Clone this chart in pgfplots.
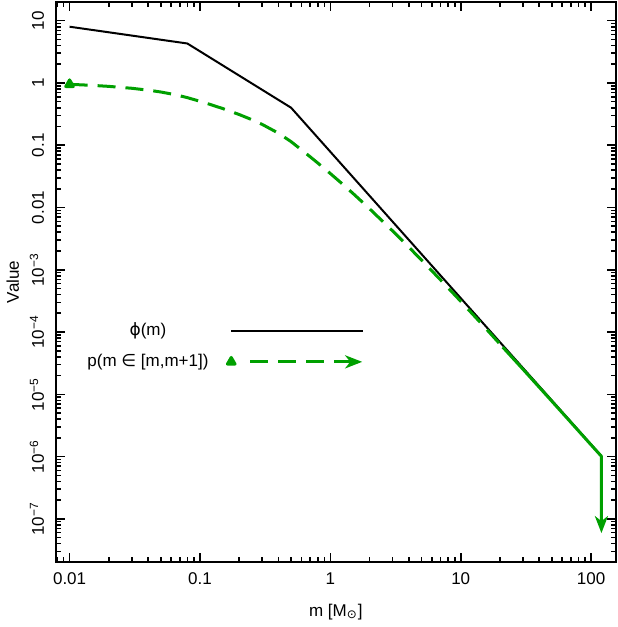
\documentclass[border=0pt]{standalone}
\usepackage{fontspec}
\setmainfont{Liberation Sans}
\newfontfamily\dejavu{DejaVu Sans}
\usepackage{pgfplots}
\pgfplotsset{compat=1.18}
\usetikzlibrary{arrows.meta}
\definecolor{gline}{RGB}{0,160,0}

\begin{document}
\begin{tikzpicture}[font=\fontsize{8.5}{10}\selectfont]
\begin{axis}[
    xmode=log, ymode=log,
    width=280pt, height=280pt, scale only axis,
    xmin=0.00785, xmax=154.5,
    ymin=2.04e-8, ymax=19.95,
    axis line style={line width=1pt},
    tick align=inside, tick pos=both,
    major tick length=4.5pt, minor tick length=2.5pt,
    every tick/.style={black, line width=0.8pt},
    xtick={0.01,0.1,1,10,100},
    xticklabels={0.01,0.1,1,10,100},
    minor xtick={0.008,0.009,0.02,0.03,0.04,0.05,0.06,0.07,0.08,0.09,
        0.2,0.3,0.4,0.5,0.6,0.7,0.8,0.9,2,3,4,5,6,7,8,9,
        20,30,40,50,60,70,80,90},
    ytick={10,1,0.1,0.01,1e-3,1e-4,1e-5,1e-6,1e-7},
    yticklabels={10,1,0.1,0.01,10\textsuperscript{−3},10\textsuperscript{−4},
        10\textsuperscript{−5},10\textsuperscript{−6},10\textsuperscript{−7}},
    minor ytick={3e-8,4e-8,5e-8,6e-8,7e-8,8e-8,9e-8,
        2e-7,3e-7,4e-7,5e-7,6e-7,7e-7,8e-7,9e-7,
        2e-6,3e-6,4e-6,5e-6,6e-6,7e-6,8e-6,9e-6,
        2e-5,3e-5,4e-5,5e-5,6e-5,7e-5,8e-5,9e-5,
        2e-4,3e-4,4e-4,5e-4,6e-4,7e-4,8e-4,9e-4,
        0.002,0.003,0.004,0.005,0.006,0.007,0.008,0.009,
        0.02,0.03,0.04,0.05,0.06,0.07,0.08,0.09,
        0.2,0.3,0.4,0.5,0.6,0.7,0.8,0.9,2,3,4,5,6,7,8,9},
    xticklabel style={anchor=base, yshift=-11.5pt},
    yticklabel style={xshift=-6pt, rotate=90, anchor=base},
    every axis x label/.style={at={(axis description cs:0.5,0)}, anchor=base, yshift=-27.5pt},
    every axis y label/.style={at={(axis description cs:0,0.5)}, xshift=-21.5pt, rotate=90, anchor=center},
    xlabel={m [M\textsubscript{\dejavu ⊙}]},
    ylabel={Value},
    legend plot pos=right,
    legend cell align=center,
    legend style={draw=none, fill=none, inner sep=0pt, outer sep=0pt,
        at={(axis description cs:0.0563,0.4268)}, anchor=north west,
        row sep=7.7pt, column sep=9.5pt,
        nodes={inner sep=0pt}},
]

% phi(m): piecewise power law
\addplot[black, line width=1pt, line join=round,
    legend image code/.code={\draw[black, line width=1pt] (0pt,0pt) -- (66pt,0pt);}]
coordinates {
    (0.01, 8) (0.08, 4.3) (0.5, 0.4) (120, 1.02e-6)
};
\addlegendentry{{\dejavu ϕ}(m)}

% p(m in [m,m+1]), dashed part
\addplot[gline, line width=1.5pt, dash pattern=on 9pt off 5pt, line join=round,
    mark=triangle*, mark size=2.2pt, mark indices={1}, mark options={solid},
    legend image code/.code={
        \draw[gline, line width=1.5pt,
            dash pattern=on 0pt off 9.5pt on 9pt off 5pt on 9pt off 5pt on 9pt off 5pt on 30pt,
            -{Stealth[length=8.5pt,width=6.5pt,inset=2.5pt]}] (0pt,0pt) -- (65.5pt,0pt);
        \path[gline] plot[mark=triangle*, mark size=2.2pt] coordinates {(0pt,0pt)};
    }]
coordinates {
    (0.01, 0.951) (0.015, 0.914) (0.02, 0.881) (0.03, 0.821) (0.04, 0.766)
    (0.05, 0.716) (0.065, 0.646) (0.08, 0.581) (0.1, 0.507) (0.12, 0.451)
    (0.15, 0.387) (0.2, 0.311) (0.25, 0.257) (0.3, 0.216) (0.4, 0.156)
    (0.5, 0.114) (0.6, 0.0844) (0.7, 0.0652) (0.8, 0.0519) (1, 0.0351)
    (1.2, 0.0252) (1.5, 0.01664) (2, 0.00954) (3, 0.00421) (4, 0.00231)
    (5, 0.001434) (7, 6.88e-4) (10, 3.12e-4) (15, 1.246e-4) (21, 5.72e-5)
};
\addlegendentry{p(m {\dejavu ∈} [m,m+1])}

% solid tail ending in the arrow
\addplot[gline, line width=1.5pt, line join=round, forget plot,
    -{Stealth[length=8.5pt,width=6.5pt,inset=2.5pt]}]
coordinates {
    (21, 5.72e-5) (30, 2.53e-5) (50, 7.75e-6) (70, 3.54e-6) (100, 1.54e-6)
    (119, 1.03e-6) (120, 1.02e-6) (120, 5.9e-8)
};

\end{axis}
\path (current axis.south west) ++(-26pt,-32.5pt);
\path (current axis.north east) ++(1pt,1pt);
\end{tikzpicture}
\end{document}
